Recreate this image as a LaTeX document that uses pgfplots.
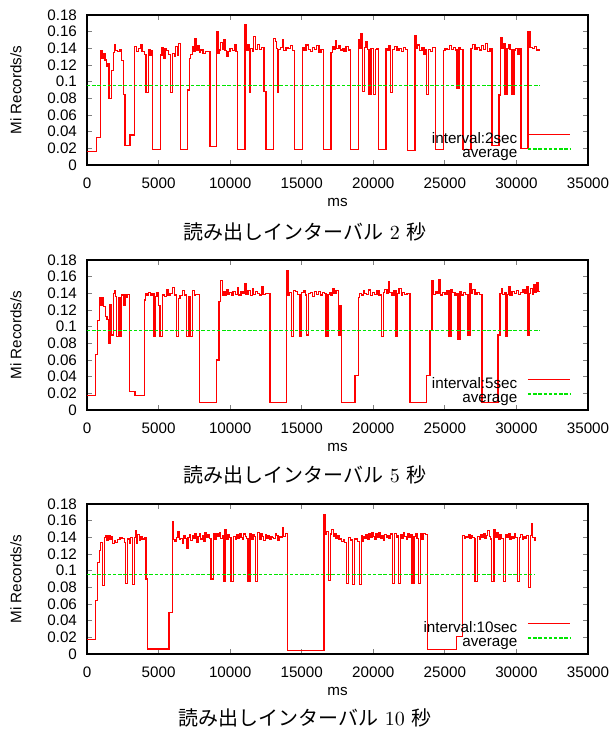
\documentclass[border=0pt]{standalone}
\usepackage{fontspec}
\usepackage{pgfplots}
\pgfplotsset{compat=1.18}
\newfontfamily\arial{Liberation Sans}
\newfontfamily\cjk{Noto Sans CJK JP}
\definecolor{gpred}{rgb}{1,0,0}
\definecolor{gpgreen}{rgb}{0,0.9,0}

\pgfplotsset{gp/.style={
  scale only axis, width=250.5pt, height=75pt,
  xmin=0, xmax=35000, ymin=0, ymax=0.18,
  xtick={0,5000,10000,15000,20000,25000,30000,35000},
  ytick={0,0.02,0.04,0.06,0.08,0.1,0.12,0.14,0.16,0.18},
  scaled x ticks=false, scaled y ticks=false,
  tick align=inside, major tick length=2.5pt,
  axis line style={line width=0.6pt}, tick style={line width=0.5pt},
  /pgf/number format/assume math mode=true,
  /pgf/number format/1000 sep={},
  yticklabel style={/pgf/number format/fixed, /pgf/number format/precision=2, xshift=-1.5pt},
  xticklabel style={yshift=-3pt},
  tick label style={font=\arial\fontsize{7.6}{9}\selectfont},
  label style={font=\arial\fontsize{7.6}{9}\selectfont},
  xlabel={ms}, ylabel={Mi Records/s},
  xlabel style={at={(axis description cs:0.5,-0.25)}, anchor=center},
  ylabel style={at={(axis description cs:-0.1417,0.5)}, anchor=center},
  legend style={draw=none, fill=none, at={(rel axis cs:1,0)}, anchor=south east,
    xshift=-5.5pt, yshift=0pt, font=\arial\fontsize{7.6}{8}\selectfont,
    nodes={inner sep=0pt, text height=5.6pt, text depth=1.6pt},
    row sep=0pt, column sep=5pt},
  legend cell align=right, legend plot pos=right,
  legend image code/.code={\draw[#1] (0pt,2.2pt) -- (21pt,2.2pt);},
  every axis plot/.append style={line width=0.65pt},
}}

\begin{document}
\begin{tikzpicture}
\useasboundingbox (0,0) rectangle (306.5pt,-367pt);

% interval 2 sec
\begin{axis}[gp, at={(43.5pt,-82.5pt)}, anchor=south west]
\addplot[color=gpred, const plot] coordinates {
(0,0.016) (676,0.033)
(955,0.137) (1050,0.128) (1150,0.134) (1250,0.126) (1350,0.118) (1450,0.122)
(1538,0.080) (1724,0.113)
(1841,0.135) (1900,0.145) (2000,0.137) (2150,0.136) (2300,0.138)
(2423,0.125) (2540,0.085) (2656,0.023) (3006,0.036)
(3309,0.142) (3450,0.136) (3600,0.140) (3750,0.145) (3850,0.136) (4000,0.133)
(4124,0.087)
(4287,0.138) (4400,0.131) (4500,0.137)
(4590,0.019)
(5149,0.132) (5250,0.141) (5350,0.128) (5450,0.140) (5550,0.137) (5700,0.133)
(5848,0.087)
(5988,0.134) (6100,0.130) (6200,0.142) (6300,0.132) (6400,0.146)
(6547,0.019) (7013,0.090)
(7153,0.128) (7250,0.133) (7350,0.142) (7450,0.136) (7550,0.152) (7650,0.137) (7750,0.143) (7850,0.135) (7950,0.138) (8100,0.134) (8300,0.136)
(8598,0.022)
(9064,0.160) (9150,0.134) (9250,0.138) (9350,0.147) (9450,0.139) (9550,0.150) (9650,0.137) (9750,0.130) (9850,0.136) (10000,0.140) (10150,0.137) (10300,0.144) (10400,0.136)
(10532,0.019)
(11044,0.168) (11150,0.138) (11250,0.145)
(11347,0.087)
(11440,0.140) (11550,0.136) (11650,0.154) (11750,0.139) (11900,0.145) (12050,0.139) (12200,0.141)
(12372,0.088) (12512,0.019)
(13025,0.152) (13150,0.148) (13250,0.140)
(13304,0.087)
(13398,0.139) (13500,0.141) (13650,0.150) (13750,0.137) (13900,0.141) (14050,0.140) (14200,0.143) (14350,0.137)
(14493,0.019)
(15052,0.141) (15150,0.137) (15300,0.144) (15450,0.139) (15600,0.136) (15750,0.141) (15900,0.139) (16050,0.143) (16200,0.135) (16350,0.139)
(16510,0.019)
(17045,0.135) (17150,0.142) (17250,0.139) (17350,0.149) (17450,0.140) (17600,0.143) (17700,0.138) (17850,0.140) (17950,0.136) (18100,0.142) (18250,0.138)
(18420,0.019)
(18955,0.150) (19050,0.140) (19150,0.158)
(19258,0.088)
(19398,0.141) (19500,0.148) (19600,0.139)
(19700,0.085) (19840,0.140) (20003,0.085)
(20143,0.139) (20250,0.140)
(20376,0.019)
(20888,0.140) (21000,0.137) (21100,0.143)
(21215,0.087)
(21354,0.139) (21500,0.142) (21650,0.138) (21800,0.140) (21950,0.136) (22100,0.141) (22250,0.139)
(22379,0.017)
(22915,0.155) (23000,0.140) (23100,0.144) (23250,0.137) (23400,0.141) (23550,0.133) (23650,0.139)
(23730,0.085)
(23870,0.139) (24000,0.136) (24150,0.141)
(24335,0.019)
(24895,0.137) (25000,0.140) (25150,0.139) (25300,0.143) (25450,0.139) (25600,0.141) (25750,0.138)
(25848,0.092)
(25988,0.141) (26100,0.139)
(26267,0.019)
(26826,0.140) (26950,0.145) (27100,0.139) (27250,0.141) (27400,0.138) (27550,0.143) (27700,0.139) (27850,0.146) (28000,0.136) (28150,0.140)
(28293,0.023) (28782,0.084)
(28900,0.153) (29000,0.140) (29100,0.146)
(29201,0.085)
(29341,0.140) (29450,0.145) (29550,0.139)
(29691,0.085)
(29830,0.138) (29950,0.140) (30100,0.133) (30200,0.140)
(30319,0.020)
(30808,0.160) (30950,0.141) (31100,0.140) (31250,0.142) (31400,0.138) (31647,0.138)
};
\addlegendentry{interval:2sec}
\addplot[color=gpgreen, line width=0.6pt, dash pattern=on 1.7pt off 0.9pt] coordinates {(0,0.095) (31647,0.095)};
\addlegendentry{average}
\end{axis}
\node[font=\fontsize{10}{12}\selectfont] at (152.5pt,-116pt) {{\cjk 読み出しインターバル} 2 {\cjk 秒}};

% interval 5 sec
\begin{axis}[gp, at={(43.5pt,-205pt)}, anchor=south west]
\addplot[color=gpred, const plot] coordinates {
(0,0.017) (606,0.067) (746,0.107)
(862,0.135) (950,0.126) (1050,0.135)
(1142,0.124) (1305,0.112) (1400,0.109)
(1491,0.080) (1608,0.126) (1724,0.090)
(1841,0.140) (1950,0.143) (2000,0.136)
(2074,0.088) (2190,0.135) (2307,0.088) (2423,0.138) (2540,0.125)
(2656,0.138) (2750,0.135) (2850,0.139)
(2959,0.022) (3355,0.017)
(4008,0.132) (4100,0.140) (4200,0.138) (4300,0.141) (4450,0.137) (4550,0.140)
(4683,0.088)
(4800,0.136) (4900,0.141)
(4986,0.125) (5103,0.088)
(5266,0.138) (5400,0.136) (5550,0.145) (5650,0.137) (5800,0.140) (5950,0.147) (6100,0.138)
(6268,0.088)
(6384,0.134) (6500,0.137) (6650,0.143) (6800,0.138)
(6967,0.088) (7083,0.136) (7200,0.088)
(7363,0.143) (7500,0.137) (7600,0.139)
(7852,0.009) (9064,0.060)
(9227,0.130) (9343,0.155) (9450,0.138) (9550,0.142) (9650,0.137) (9750,0.145) (9850,0.139) (9950,0.141) (10100,0.138) (10200,0.142) (10350,0.139) (10500,0.147) (10600,0.138) (10750,0.142) (10900,0.140) (11000,0.152) (11100,0.139) (11250,0.143) (11400,0.137) (11550,0.146) (11650,0.139) (11750,0.142) (11900,0.140) (12050,0.138) (12200,0.148) (12300,0.139) (12450,0.140) (12600,0.140)
(12792,0.009)
(13957,0.167) (14050,0.138) (14150,0.141)
(14306,0.088)
(14423,0.143) (14550,0.142) (14700,0.139)
(14889,0.088)
(15005,0.141) (15150,0.143) (15250,0.138)
(15355,0.090)
(15471,0.140) (15600,0.141) (15750,0.136) (15900,0.142) (16050,0.139) (16150,0.142) (16300,0.138) (16450,0.141) (16600,0.140)
(16700,0.088)
(16840,0.139) (16950,0.141) (17050,0.137) (17150,0.146) (17250,0.140) (17400,0.143)
(17558,0.090) (17674,0.125)
(17791,0.009) (18723,0.041)
(18955,0.135) (19050,0.140) (19200,0.138) (19300,0.143) (19400,0.140) (19550,0.139) (19650,0.144) (19800,0.137) (19950,0.141) (20100,0.139) (20250,0.143) (20400,0.138)
(20586,0.088)
(20702,0.141) (20800,0.145) (20950,0.140) (21050,0.154) (21150,0.141) (21300,0.138) (21450,0.143)
(21587,0.088)
(21704,0.140) (21800,0.146) (21950,0.138) (22050,0.141) (22200,0.139) (22350,0.140)
(22565,0.009) (23730,0.041) (23963,0.095)
(24100,0.155) (24200,0.139) (24350,0.142) (24450,0.140) (24600,0.157) (24700,0.138) (24850,0.141) (25000,0.139) (25150,0.143)
(25289,0.088)
(25429,0.145) (25550,0.141) (25700,0.138) (25800,0.140)
(25918,0.085)
(26058,0.142) (26150,0.138) (26300,0.141) (26450,0.139)
(26617,0.090)
(26756,0.152) (26850,0.140) (26950,0.145) (27100,0.139) (27250,0.141) (27400,0.139)
(27595,0.009) (28712,0.090)
(28852,0.140) (28950,0.146) (29050,0.139) (29150,0.141)
(29271,0.088)
(29341,0.139) (29450,0.148) (29550,0.138) (29700,0.142) (29850,0.140) (30000,0.143) (30150,0.139) (30300,0.141) (30450,0.145) (30600,0.140) (30700,0.148)
(30808,0.090)
(30878,0.140) (31000,0.146) (31100,0.139) (31200,0.150) (31300,0.141) (31400,0.153) (31500,0.142) (31647,0.142)
};
\addlegendentry{interval:5sec}
\addplot[color=gpgreen, line width=0.6pt, dash pattern=on 1.7pt off 0.9pt] coordinates {(0,0.095) (31647,0.095)};
\addlegendentry{average}
\end{axis}
\node[font=\fontsize{10}{12}\selectfont] at (152.5pt,-237.5pt) {{\cjk 読み出しインターバル} 5 {\cjk 秒}};

% interval 10 sec
\begin{axis}[gp, at={(43.5pt,-327pt)}, anchor=south west]
\addplot[color=gpred, const plot] coordinates {
(0,0.017) (606,0.064) (746,0.110) (862,0.124) (955,0.134) (1072,0.082)
(1212,0.140) (1300,0.142) (1400,0.136) (1500,0.142) (1600,0.138) (1700,0.141) (1800,0.133) (1900,0.136) (2000,0.134) (2150,0.137) (2300,0.140) (2450,0.139) (2600,0.134)
(2703,0.085)
(2843,0.138) (2950,0.133) (3050,0.140)
(3169,0.083)
(3309,0.140) (3400,0.148) (3472,0.133) (3550,0.143) (3650,0.136) (3750,0.141) (3850,0.138) (4000,0.140)
(4124,0.090) (4241,0.006) (5732,0.050)
(5965,0.159) (6050,0.137) (6150,0.135) (6250,0.140) (6350,0.147) (6450,0.137) (6550,0.139) (6650,0.133) (6750,0.142) (6850,0.139) (6950,0.127) (7050,0.140) (7150,0.143) (7250,0.136) (7350,0.142) (7450,0.139) (7550,0.145) (7650,0.134) (7750,0.141) (7850,0.144) (7950,0.138) (8050,0.142) (8150,0.135) (8250,0.146) (8350,0.140) (8450,0.143) (8550,0.139)
(8668,0.090)
(8831,0.144) (8950,0.138) (9050,0.145) (9150,0.141) (9250,0.146) (9350,0.139) (9450,0.142)
(9530,0.087)
(9646,0.149) (9750,0.137) (9850,0.143) (9950,0.140)
(10066,0.087)
(10229,0.141) (10350,0.138) (10450,0.143) (10550,0.139) (10650,0.145) (10750,0.140) (10850,0.137) (10950,0.144) (11050,0.141) (11150,0.139)
(11254,0.087)
(11394,0.145) (11500,0.138) (11600,0.143) (11700,0.141)
(11790,0.087)
(11930,0.146) (12050,0.138) (12150,0.144) (12250,0.141) (12350,0.136) (12450,0.143) (12550,0.139) (12650,0.142) (12750,0.137) (12850,0.141) (12950,0.140) (13050,0.139) (13150,0.145) (13250,0.142) (13350,0.136) (13450,0.141) (13550,0.140) (13650,0.152) (13750,0.141) (13850,0.145)
(14003,0.004)
(16556,0.167) (16650,0.144) (16750,0.147)
(16859,0.088)
(17022,0.144) (17100,0.149) (17200,0.141) (17300,0.145) (17400,0.139) (17500,0.142) (17600,0.137) (17700,0.139) (17800,0.135) (17900,0.137) (18000,0.134)
(18140,0.085)
(18280,0.140) (18400,0.136) (18500,0.137)
(18559,0.083)
(18699,0.138) (18800,0.139) (18900,0.135)
(19025,0.083)
(19165,0.142) (19250,0.135) (19300,0.141) (19400,0.139) (19500,0.143) (19600,0.138) (19700,0.145) (19800,0.140) (19900,0.146) (20000,0.141) (20100,0.137) (20200,0.144) (20300,0.140) (20400,0.146) (20500,0.139) (20600,0.142) (20700,0.136) (20800,0.143) (20900,0.140) (21000,0.142) (21100,0.139) (21200,0.144)
(21354,0.085)
(21494,0.145) (21600,0.140) (21700,0.142)
(21773,0.085)
(21913,0.143) (22000,0.139) (22100,0.146) (22200,0.141) (22300,0.137) (22400,0.144) (22500,0.140) (22600,0.143)
(22705,0.085)
(22845,0.141) (22950,0.144) (23050,0.139)
(23171,0.085)
(23311,0.144) (23400,0.138) (23500,0.145) (23650,0.143)
(23777,0.005) (25826,0.021)
(26245,0.142) (26350,0.139) (26450,0.141) (26550,0.140) (26650,0.143) (26750,0.139) (26850,0.142) (26950,0.140) (27050,0.138)
(27107,0.087)
(27270,0.141) (27400,0.138) (27500,0.143) (27600,0.140) (27700,0.145) (27800,0.139) (27900,0.142) (28000,0.148) (28100,0.141) (28200,0.138)
(28271,0.087)
(28434,0.149) (28550,0.140) (28650,0.146) (28750,0.138) (28850,0.143) (28950,0.139)
(29087,0.087)
(29250,0.143) (29350,0.140) (29450,0.145) (29550,0.138) (29650,0.141) (29750,0.139) (29850,0.144) (29950,0.140)
(30064,0.087)
(30204,0.140) (30300,0.143) (30400,0.138) (30500,0.141) (30600,0.139) (30700,0.142)
(30857,0.080)
(30996,0.142) (31050,0.156) (31120,0.140) (31300,0.136)
};
\addlegendentry{interval:10sec}
\addplot[color=gpgreen, line width=0.6pt, dash pattern=on 1.7pt off 0.9pt] coordinates {(0,0.095) (31300,0.095)};
\addlegendentry{average}
\end{axis}
\node[font=\fontsize{10}{12}\selectfont] at (152.5pt,-359pt) {{\cjk 読み出しインターバル} 10 {\cjk 秒}};
\end{tikzpicture}
\end{document}
